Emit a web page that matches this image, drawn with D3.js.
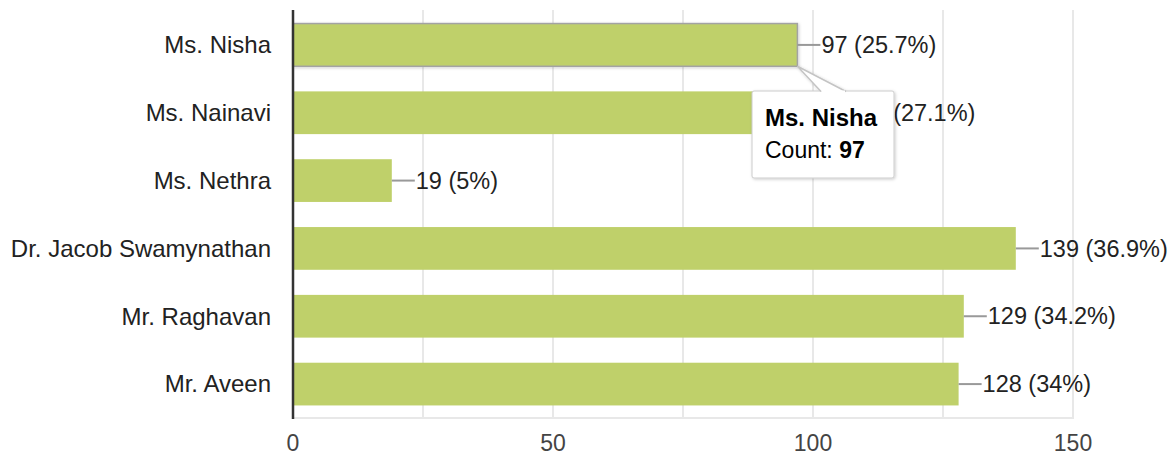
<!DOCTYPE html>
<html>
<head>
<meta charset="utf-8">
<script src="https://cdn.jsdelivr.net/npm/d3@7"></script>
<style>
  html, body { margin: 0; padding: 0; background: #fff; }
  svg { display: block; font-family: "Liberation Sans", Arial, sans-serif; }
</style>
</head>
<body>
<svg id="chart" width="1175" height="459"></svg>
<script>
'use strict';

// dados
const categories = ['Ms. Nisha', 'Ms. Nainavi', 'Ms. Nethra', 'Dr. Jacob Swamynathan', 'Mr. Raghavan', 'Mr. Aveen'];
const counts = [97, 102, 19, 139, 129, 128];
const totalResponses = 377;
const xTicks = [0, 50, 100, 150];
const gridTicks = [25, 50, 75, 100, 125, 150];
const hovered = 'Ms. Nisha';

const svg = d3.select('#chart');
const margin = { left: 293, right: 102, top: 11, bottom: 41 };
const width = 1175, height = 459;
const labelSize = 24;
const valueSize = 23.5;
const tickSize = 23;

const x = d3.scaleLinear().domain([0, 150]).range([margin.left, width - margin.right]);
const y = d3.scaleBand().domain(categories).range([margin.top, height - margin.bottom]).paddingInner(0.37).paddingOuter(0.185);

const fmtPct = v => {
  const p = Math.round(v / totalResponses * 1000) / 10;
  return (p % 1 === 0 ? p.toFixed(0) : p.toFixed(1)) + '%';
};

// grade
svg.append('g').selectAll('line').data(gridTicks).join('line')
  .attr('x1', d => x(d)).attr('x2', d => x(d))
  .attr('y1', margin.top - 1).attr('y2', height - margin.bottom)
  .attr('stroke', '#e8e8e8').attr('stroke-width', 2);

svg.append('line')
  .attr('x1', margin.left).attr('x2', x(150) + 1)
  .attr('y1', height - margin.bottom).attr('y2', height - margin.bottom)
  .attr('stroke', '#e8e8e8').attr('stroke-width', 2);

const defs = svg.append('defs');
const shadow = defs.append('filter').attr('id', 'shadow').attr('x', '-20%').attr('y', '-20%').attr('width', '150%').attr('height', '150%');
shadow.append('feDropShadow').attr('dx', 1).attr('dy', 1).attr('stdDeviation', 1.5).attr('flood-color', '#000').attr('flood-opacity', 0.2);

// barras
const data = categories.map((c, i) => ({ name: c, value: counts[i] }));

svg.append('g').selectAll('rect').data(data).join('rect')
  .attr('x', x(0))
  .attr('y', d => y(d.name))
  .attr('width', d => x(d.value) - x(0))
  .attr('height', y.bandwidth())
  .attr('fill', '#bfd06a')
  .attr('stroke', d => d.name === hovered ? '#a3a3a3' : 'none')
  .attr('stroke-width', 1.5)
  .attr('filter', d => d.name === hovered ? 'url(#shadow)' : null);

// rótulos de valor
const ann = svg.append('g').selectAll('g').data(data).join('g');
ann.append('line')
  .attr('x1', d => x(d.value)).attr('x2', d => x(d.value) + 23)
  .attr('y1', d => y(d.name) + y.bandwidth() / 2).attr('y2', d => y(d.name) + y.bandwidth() / 2)
  .attr('stroke', '#999').attr('stroke-width', 2);
ann.append('text')
  .attr('x', d => x(d.value) + 24)
  .attr('y', d => y(d.name) + y.bandwidth() / 2)
  .attr('dy', '0.35em')
  .attr('font-size', valueSize)
  .attr('fill', '#222')
  .text(d => `${d.value} (${fmtPct(d.value)})`);

// eixo y
svg.append('g').selectAll('text').data(categories).join('text')
  .attr('x', margin.left - 22)
  .attr('y', d => y(d) + y.bandwidth() / 2)
  .attr('dy', '0.35em')
  .attr('text-anchor', 'end')
  .attr('font-size', labelSize)
  .attr('fill', '#222')
  .text(d => d);

svg.append('line')
  .attr('x1', margin.left).attr('x2', margin.left)
  .attr('y1', margin.top - 1).attr('y2', height - margin.bottom + 1)
  .attr('stroke', '#333').attr('stroke-width', 2.5);

// eixo x
svg.append('g').selectAll('text').data(xTicks).join('text')
  .attr('x', d => x(d))
  .attr('y', 443)
  .attr('dy', '0.35em')
  .attr('text-anchor', 'middle')
  .attr('font-size', tickSize)
  .attr('fill', '#444')
  .text(d => d);

// tooltip
const hd = data.find(d => d.name === hovered);
const tipX = x(hd.value), tipY = y(hd.name) + y.bandwidth();
const box = { x: 752, y: 91, w: 142, h: 87 };
const tip = svg.append('g').attr('filter', 'url(#shadow)');
tip.append('rect')
  .attr('x', box.x).attr('y', box.y).attr('width', box.w).attr('height', box.h)
  .attr('rx', 2).attr('fill', '#fff').attr('stroke', '#ccc').attr('stroke-width', 1);
tip.append('path')
  .attr('d', `M${box.x + 69},${box.y + 0.5} L${tipX},${tipY} L${box.x + 94},${box.y + 0.5}`)
  .attr('fill', '#fff').attr('stroke', '#c4c4c4').attr('stroke-width', 1.5);
tip.append('line')
  .attr('x1', box.x + 70).attr('x2', box.x + 93)
  .attr('y1', box.y + 0.5).attr('y2', box.y + 0.5)
  .attr('stroke', '#fff').attr('stroke-width', 2);

const tt = svg.append('text').attr('font-size', 24).attr('fill', '#000');
tt.append('tspan').attr('x', box.x + 13).attr('y', box.y + 35).attr('font-weight', 'bold').text(hd.name);
const l2 = svg.append('text').attr('font-size', 23).attr('fill', '#000')
  .attr('x', box.x + 13).attr('y', box.y + 67);
l2.append('tspan').text('Count: ');
l2.append('tspan').attr('font-weight', 'bold').text(hd.value);
</script>
</body>
</html>
